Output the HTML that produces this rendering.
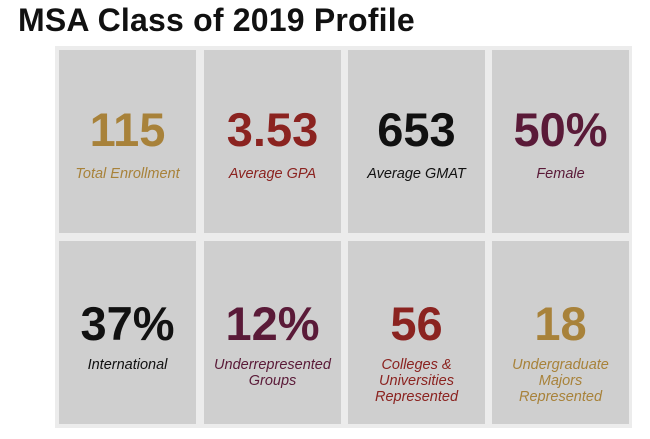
<!DOCTYPE html>
<html><head><meta charset="utf-8"><style>
body{margin:0;width:650px;height:439px;background:#fff;position:relative;overflow:hidden;font-family:"Liberation Sans",sans-serif}
h1{position:absolute;left:18px;top:2px;margin:0;font-size:32px;font-weight:bold;color:#111;letter-spacing:0.2px}
.grid{position:absolute;left:55px;top:46px;width:577px;height:382px;background:#ececec}
.tile{position:absolute;width:137px;height:183px;background:#cfcfcf;text-align:center}
.num{position:absolute;left:0;right:0;top:52px;font-size:47px;font-weight:bold;line-height:56px}
.lbl{position:absolute;left:0;right:0;top:116px;font-size:14.5px;font-style:italic;line-height:16px}
.r2 .num{top:55px}.r2 .lbl{top:116px}
.g{color:#a8823a}.r{color:#8b2320}.k{color:#111}.m{color:#5a1a38}
</style></head><body>
<h1>MSA Class of 2019 Profile</h1>
<div class="grid">
<div class="tile g" style="left:4px;top:4px"><div class="num">115</div><div class="lbl">Total Enrollment</div></div>
<div class="tile r" style="left:149px;top:4px"><div class="num">3.53</div><div class="lbl">Average GPA</div></div>
<div class="tile k" style="left:293px;top:4px"><div class="num">653</div><div class="lbl">Average GMAT</div></div>
<div class="tile m" style="left:437px;top:4px"><div class="num">50%</div><div class="lbl">Female</div></div>
<div class="tile k r2" style="left:4px;top:195px"><div class="num">37%</div><div class="lbl">International</div></div>
<div class="tile m r2" style="left:149px;top:195px"><div class="num">12%</div><div class="lbl">Underrepresented<br>Groups</div></div>
<div class="tile r r2" style="left:293px;top:195px"><div class="num">56</div><div class="lbl">Colleges &amp;<br>Universities<br>Represented</div></div>
<div class="tile g r2" style="left:437px;top:195px"><div class="num">18</div><div class="lbl">Undergraduate<br>Majors<br>Represented</div></div>
</div>
</body></html>
